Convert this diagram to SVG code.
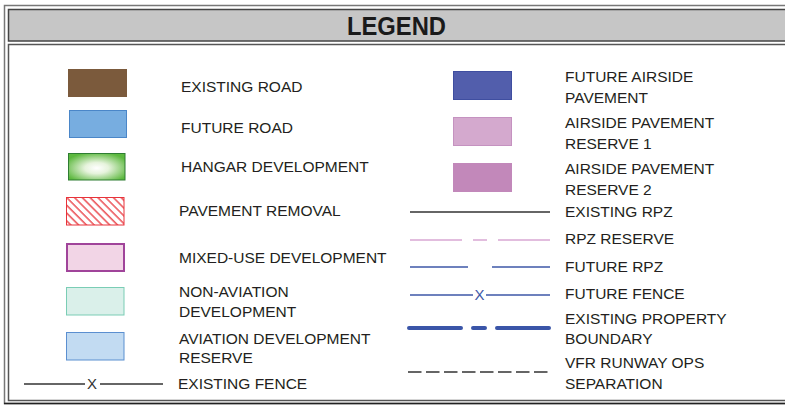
<svg xmlns="http://www.w3.org/2000/svg" width="785" height="408" viewBox="0 0 785 408">
<style>
.t{font-family:"Liberation Sans",Arial,sans-serif;font-size:15.5px;fill:#231F20}
.h{font-family:"Liberation Sans",Arial,sans-serif;font-size:25px;font-weight:bold;fill:#1a1a1a}
.ln{fill:none;stroke-width:1.5}
.x{font-family:"Liberation Sans",Arial,sans-serif;font-size:15px}
</style>
<defs>
<radialGradient id="hg" cx="0.5" cy="0.55" r="0.6">
<stop offset="0" stop-color="#ffffff"/>
<stop offset="0.35" stop-color="#e6f3dc"/>
<stop offset="1" stop-color="#5cb83e"/>
</radialGradient>
<pattern id="hatch" width="5.5" height="5.5" patternUnits="userSpaceOnUse" patternTransform="rotate(-45)">
<rect width="5.5" height="5.5" fill="#fff"/>
<line x1="1" y1="0" x2="1" y2="5.5" stroke="#E8333A" stroke-width="1.3"/>
</pattern>
</defs>
<rect width="785" height="408" fill="#fff"/>
<g id="frame">
<rect x="4.5" y="5.5" width="800" height="398" fill="none" stroke="#777" stroke-width="1.5"/>
<line x1="4" y1="403.5" x2="785" y2="403.5" stroke="#222" stroke-width="1.5"/>
<rect x="8.5" y="9.5" width="800" height="31.5" fill="#C6C6C6" stroke="#444" stroke-width="1.5"/>
<rect x="8.5" y="44.5" width="800" height="356" fill="#fff" stroke="#555" stroke-width="1.5"/>
<text class="h" x="347" y="35" textLength="99" lengthAdjust="spacingAndGlyphs">LEGEND</text>
</g>
<g id="existing-road">
<rect x="68" y="69" width="59" height="28" fill="#7B5A3C"/>
<text class="t" x="181" y="92">EXISTING ROAD</text>
</g>
<g id="future-road">
<rect x="69.5" y="110.5" width="57" height="27" fill="#77ADE0" stroke="#4A86C8" stroke-width="1"/>
<text class="t" x="181" y="133">FUTURE ROAD</text>
</g>
<g id="hangar">
<rect x="68.5" y="153.5" width="56.5" height="26.5" fill="url(#hg)" stroke="#2E7D32" stroke-width="1"/>
<text class="t" x="181" y="172">HANGAR DEVELOPMENT</text>
</g>
<g id="pavement-removal">
<rect x="66.5" y="197.5" width="57.5" height="27.5" fill="url(#hatch)" stroke="#E8333A" stroke-width="1"/>
<text class="t" x="179" y="216">PAVEMENT REMOVAL</text>
</g>
<g id="mixed-use">
<rect x="67" y="244" width="57" height="27" fill="#F2D5E6" stroke="#A0449A" stroke-width="2"/>
<text class="t" x="179" y="263">MIXED-USE DEVELOPMENT</text>
</g>
<g id="non-aviation">
<rect x="66.5" y="287.5" width="57.5" height="27.5" fill="#DAF0EA" stroke="#7ACDB5" stroke-width="1"/>
<text class="t" x="179" y="297">NON-AVIATION</text>
<text class="t" x="179" y="317">DEVELOPMENT</text>
</g>
<g id="aviation-reserve">
<rect x="66.5" y="332.5" width="57.5" height="27.5" fill="#C2DBF2" stroke="#5B8FD0" stroke-width="1"/>
<text class="t" x="179" y="344">AVIATION DEVELOPMENT</text>
<text class="t" x="179" y="363">RESERVE</text>
</g>
<g id="existing-fence">
<text class="t" x="178" y="389">EXISTING FENCE</text>
</g>
<g id="future-airside">
<rect x="453.5" y="71.5" width="58" height="28" fill="#525EAC" stroke="#3F4EA0" stroke-width="1"/>
<text class="t" x="565" y="82">FUTURE AIRSIDE</text>
<text class="t" x="565" y="103">PAVEMENT</text>
</g>
<g id="reserve-1">
<rect x="453.5" y="117.5" width="58" height="28" fill="#D4A9CE" stroke="#C592C0" stroke-width="1"/>
<text class="t" x="565" y="128">AIRSIDE PAVEMENT</text>
<text class="t" x="565" y="149">RESERVE 1</text>
</g>
<g id="reserve-2">
<rect x="453" y="163" width="59" height="29" fill="#C288BA"/>
<text class="t" x="565" y="174">AIRSIDE PAVEMENT</text>
<text class="t" x="565" y="195">RESERVE 2</text>
</g>
<g id="existing-rpz"><text class="t" x="565" y="217">EXISTING RPZ</text></g>
<g id="rpz-reserve"><text class="t" x="565" y="244">RPZ RESERVE</text></g>
<g id="future-rpz"><text class="t" x="565" y="272">FUTURE RPZ</text></g>
<g id="future-fence"><text class="t" x="565" y="299">FUTURE FENCE</text></g>
<g id="property-boundary">
<text class="t" x="565" y="324">EXISTING PROPERTY</text>
<text class="t" x="565" y="344">BOUNDARY</text>
</g>
<g id="vfr">
<text class="t" x="565" y="368">VFR RUNWAY OPS</text>
<text class="t" x="565" y="389">SEPARATION</text>
</g>
<g id="connectors">
<line class="ln" x1="24" y1="384" x2="85" y2="384" stroke="#333" stroke-width="1.2"/>
<text class="x" x="92" y="389" text-anchor="middle" fill="#333">X</text>
<line class="ln" x1="100" y1="384" x2="163" y2="384" stroke="#333" stroke-width="1.2"/>
<line class="ln" x1="410" y1="212" x2="550" y2="212" stroke="#333"/>
<path class="ln" d="M410 240H462M473 240H487M498 240H550" stroke="#D9A8D4"/>
<path class="ln" d="M410 267H468M492 267H550" stroke="#3E58A8" stroke-width="1.2"/>
<path class="ln" d="M410 295H473M486 295H550" stroke="#3E58A8" stroke-width="1.2"/>
<text class="x" x="479.5" y="300" text-anchor="middle" fill="#3E58A8">X</text>
<path d="M409 328H461M473 328H485M497 328H549" fill="none" stroke="#3A55A8" stroke-width="4" stroke-linecap="round"/>
<line x1="408" y1="372" x2="548" y2="372" stroke="#333" stroke-width="1.5" stroke-dasharray="13.5 4.5"/>
</g>
</svg>
